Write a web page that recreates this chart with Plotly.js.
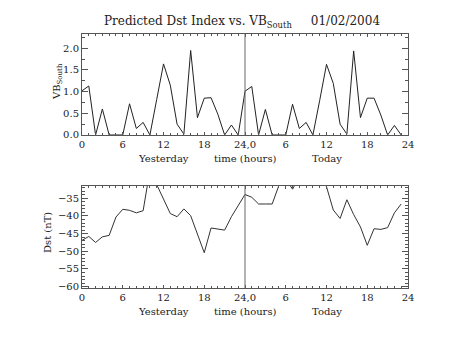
<!DOCTYPE html>
<html>
<head>
<meta charset="utf-8">
<script src="https://cdn.plot.ly/plotly-3.0.1.min.js"></script>
<style>html,body{margin:0;padding:0;background:#fff;}#chart{width:453px;height:340px;}</style>
</head>
<body>
<div id="chart"></div>
<script>
// hours 0..47 (yesterday 0-23, today 24-47)
const hours = [];
for (let i = 0; i < 48; i++) hours.push(i);

const vbSouth = [
  1.02, 1.13, 0.00, 0.60, 0.00, 0.00, 0.00, 0.72, 0.15, 0.29, 0.00, 0.82,
  1.64, 1.15, 0.25, 0.02, 1.95, 0.40, 0.85, 0.86, 0.48, 0.00, 0.23, 0.00,
  1.01, 1.12, 0.00, 0.59, 0.00, 0.00, 0.00, 0.71, 0.15, 0.29, 0.00, 0.80,
  1.63, 1.19, 0.25, 0.02, 1.94, 0.40, 0.85, 0.85, 0.46, 0.00, 0.22, 0.00
];

const dst = [
  -46.9, -45.8, -47.5, -45.9, -45.5, -40.3, -38.1, -38.4, -39.1, -38.5, -27.0, -31.2,
  -35.6, -39.3, -40.2, -38.0, -39.9, -45.1, -50.4, -43.4, -43.6, -44.0, -40.2, -37.2,
  -33.9, -34.7, -36.6, -36.6, -36.6, -31.3, -29.5, -32.4, -29.0, -28.5, -29.0, -29.5,
  -31.7, -38.3, -40.7, -35.4, -39.6, -43.1, -48.3, -43.6, -43.8, -43.3, -39.1, -36.6
];

const tickVals = [0, 6, 12, 18, 24, 30, 36, 42, 48];
const tickText = ['0', '6', '12', '18', '24,0', '6', '12', '18', '24'];
const vbTicks = [0, 0.5, 1.0, 1.5, 2.0];
const vbTickText = ['0.0', '0.5', '1.0', '1.5', '2.0'];
const dstTicks = [-60, -55, -50, -45, -40, -35];
const dstTickText = ['\u221260', '\u221255', '\u221250', '\u221245', '\u221240', '\u221235'];
const dayLabels = ['Yesterday', 'time (hours)', 'Today'];
const dayLabelHours = [12, 24, 36];

const FONT = 'DejaVu Serif, Liberation Serif, serif';
const TXT = '#222';
const AX = '#555';

function xax(anchor) {
  return {
    anchor: anchor, range: [0, 48], tickmode: 'array', tickvals: tickVals, ticktext: tickText,
    ticks: 'inside', ticklen: 3, tickcolor: AX, showline: true, linecolor: AX, linewidth: 1,
    mirror: 'ticks', showgrid: false, zeroline: false,
    minor: {dtick: 1, ticks: 'inside', ticklen: 2, tickcolor: AX, showgrid: false},
    tickfont: {family: FONT, size: 10, color: TXT}, fixedrange: true
  };
}
function yax(anchor, domain, range, tv, tt, minorD) {
  return {
    anchor: anchor, domain: domain, range: range, tickmode: 'array', tickvals: tv, ticktext: tt,
    ticks: 'inside', ticklen: 6, tickcolor: AX, showline: true, linecolor: AX, linewidth: 1,
    mirror: 'ticks', showgrid: false, zeroline: false,
    minor: {dtick: minorD, ticks: 'inside', ticklen: 3, tickcolor: AX, showgrid: false},
    tickfont: {family: FONT, size: 10, color: TXT}, fixedrange: true
  };
}

const traces = [
  {x: hours, y: vbSouth, xaxis: 'x', yaxis: 'y', mode: 'lines', line: {color: '#222', width: 1}, hoverinfo: 'none'},
  {x: hours, y: dst, xaxis: 'x2', yaxis: 'y2', mode: 'lines', line: {color: '#333', width: 1}, hoverinfo: 'none'}
];

const layout = {
  width: 453, height: 340,
  margin: {l: 82, r: 45, t: 34, b: 52},
  paper_bgcolor: '#fff', plot_bgcolor: '#fff',
  showlegend: false,
  title: {text: 'Predicted Dst Index vs. VB<sub>South</sub>\u00a0\u00a0\u00a0\u00a0\u00a001/02/2004',
    x: 242/453, xanchor: 'center', xref: 'container', y: 1 - 21/340, yanchor: 'middle', yref: 'container',
    font: {family: FONT, size: 12, color: TXT}},
  xaxis: xax('y'),
  yaxis: yax('x', [0.6024, 1], [0, 2.33], vbTicks, vbTickText, 0.25),
  xaxis2: xax('y2'),
  yaxis2: yax('x2', [0, 0.4016], [-60.4, -31.5], dstTicks, dstTickText, 1),
  shapes: [
    {type: 'line', xref: 'x', yref: 'y domain', x0: 24, x1: 24, y0: 0, y1: 1, line: {color: '#666', width: 1}},
    {type: 'line', xref: 'x2', yref: 'y2 domain', x0: 24, x1: 24, y0: 0, y1: 1, line: {color: '#666', width: 1}}
  ],
  annotations: []
};

// x-axis captions below each panel
const capY = [158, 311];
['x', 'x2'].forEach((xr, k) => {
  dayLabels.forEach((t, i) => {
    layout.annotations.push({xref: xr, yref: 'paper', x: dayLabelHours[i], y: (340 - 52 - capY[k]) / 254,
      text: t, showarrow: false, font: {family: FONT, size: 10, color: TXT}, xanchor: 'center', yanchor: 'middle'});
  });
});
// y-axis titles
layout.annotations.push({xref: 'paper', yref: 'paper', x: (57 - 82) / 326, y: (288 - 82) / 254, textangle: -90,
  text: 'VB<sub>South</sub>', showarrow: false, font: {family: FONT, size: 10, color: TXT}, xanchor: 'center', yanchor: 'middle'});
layout.annotations.push({xref: 'paper', yref: 'paper', x: (48 - 82) / 326, y: (288 - 233) / 254, textangle: -90,
  text: 'Dst (nT)', showarrow: false, font: {family: FONT, size: 10, color: TXT}, xanchor: 'center', yanchor: 'middle'});

Plotly.newPlot('chart', traces, layout, {staticPlot: true, displayModeBar: false});
</script>
</body>
</html>
